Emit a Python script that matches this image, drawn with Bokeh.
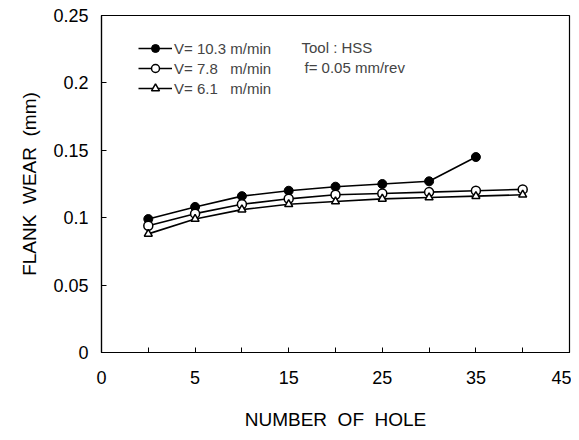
from bokeh.plotting import figure
from bokeh.models import FixedTicker, Legend, LegendItem, Label, Range1d
from bokeh.embed import file_html
from bokeh.resources import INLINE

holes = [0, 5, 10, 15, 20, 25, 30, 35, 40]
wear_v103 = [0.099, 0.108, 0.116, 0.120, 0.123, 0.125, 0.127, 0.145]
wear_v78 = [0.094, 0.103, 0.110, 0.114, 0.117, 0.118, 0.119, 0.120, 0.121]
wear_v61 = [0.088, 0.099, 0.106, 0.110, 0.112, 0.114, 0.115, 0.116, 0.117]

x_tick_values = [-5, 0, 5, 10, 15, 20, 25, 30, 35, 40, 45]
x_tick_labels = {-5: "0", 5: "5", 15: "15", 25: "25", 35: "35", 45: "45"}
y_tick_values = [0, 0.05, 0.1, 0.15, 0.2, 0.25]
y_tick_labels = ["0", "0.05", "0.1", "0.15", "0.2", "0.25"]

series_labels = ["V= 10.3 m/min", "V= 7.8\u00a0\u00a0\u00a0m/min", "V= 6.1\u00a0\u00a0\u00a0m/min"]
NB = "\u00a0"

FONT = "Liberation Sans"

p = figure(width=571, height=432, output_backend="svg", toolbar_location=None,
           x_range=Range1d(-5, 45), y_range=Range1d(0, 0.25),
           min_border_left=101, min_border_right=2, min_border_top=15, min_border_bottom=80)

p.xgrid.visible = False
p.ygrid.visible = False
p.outline_line_color = "black"
p.outline_line_width = 1.2

for ax in (p.xaxis[0], p.yaxis[0]):
    ax.major_tick_in = 5
    ax.major_tick_out = 0
    ax.minor_tick_line_color = None
    ax.axis_line_color = "black"
    ax.axis_line_width = 1.2
    ax.major_label_text_font = FONT
    ax.major_label_text_font_size = "18px"
    ax.major_label_text_color = "black"
    ax.axis_label_text_font = FONT
    ax.axis_label_text_font_size = "19px"
    ax.axis_label_text_font_style = "normal"
    ax.axis_label_text_color = "black"

p.xaxis.ticker = FixedTicker(ticks=x_tick_values)
p.xaxis.major_label_overrides = {t: x_tick_labels.get(t, "") for t in x_tick_values}
p.xaxis.major_label_standoff = 18
p.xaxis.axis_label = "NUMBER" + NB * 2 + "OF" + NB * 2 + "HOLE"
p.xaxis.axis_label_standoff = 22

p.yaxis.ticker = FixedTicker(ticks=y_tick_values)
p.yaxis.major_label_overrides = dict(zip(y_tick_values, y_tick_labels))
p.yaxis.major_label_standoff = 13
p.yaxis.axis_label = "FLANK" + NB * 2 + "WEAR" + NB * 2 + "(mm)"
p.yaxis.axis_label_standoff = 10

l1 = p.line(holes[:len(wear_v103)], wear_v103, line_color="black", line_width=1.6)
s1 = p.scatter(holes[:len(wear_v103)], wear_v103, marker="circle", size=9,
               fill_color="black", line_color="black")
l2 = p.line(holes, wear_v78, line_color="black", line_width=1.6)
s2 = p.scatter(holes, wear_v78, marker="circle", size=9,
               fill_color="white", line_color="black", line_width=1.5)
l3 = p.line(holes, wear_v61, line_color="black", line_width=1.6)
s3 = p.scatter(holes, wear_v61, marker="triangle", size=8,
               fill_color="white", line_color="black", line_width=1.5)

legend = Legend(items=[
    LegendItem(label=series_labels[0], renderers=[l1, s1]),
    LegendItem(label=series_labels[1], renderers=[l2, s2]),
    LegendItem(label=series_labels[2], renderers=[l3, s3]),
], location=(37, 254), border_line_color=None, background_fill_alpha=0,
    label_text_font=FONT, label_text_font_size="15px", glyph_width=34,
    glyph_height=20, label_height=20, spacing=0, padding=0, label_standoff=2, margin=0)
p.add_layout(legend, "center")

p.add_layout(Label(x=200, y=305, x_units="screen", y_units="screen", text="Tool : HSS",
                   text_font=FONT, text_font_size="15px", text_baseline="middle"))
p.add_layout(Label(x=203, y=285, x_units="screen", y_units="screen", text="f= 0.05 mm/rev",
                   text_font=FONT, text_font_size="15px", text_baseline="middle"))

open("out.html", "w").write(file_html(p, INLINE))
